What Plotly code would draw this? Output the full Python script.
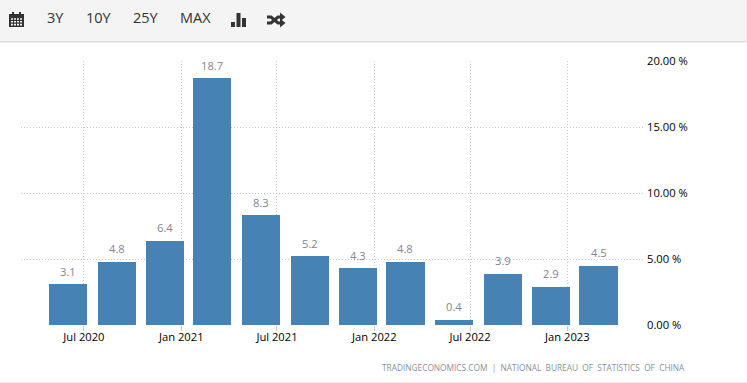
import plotly.graph_objects as go

W, H = 747, 383
L, R, T, B = 21, 644, 61, 325

quarters = ["2020-06-01", "2020-09-01", "2020-12-01", "2021-03-01", "2021-06-01", "2021-09-01",
            "2021-12-01", "2022-03-01", "2022-06-01", "2022-09-01", "2022-12-01", "2023-03-01"]
growth = [3.1, 4.8, 6.4, 18.7, 8.3, 5.2, 4.3, 4.8, 0.4, 3.9, 2.9, 4.5]
tick_dates = ["2020-07-01", "2021-01-01", "2021-07-01", "2022-01-01", "2022-07-01", "2023-01-01"]
tick_labels = ["Jul 2020", "Jan 2021", "Jul 2021", "Jan 2022", "Jul 2022", "Jan 2023"]
y_ticks = [0, 5, 10, 15, 20]
y_labels = ["0.00 %", "5.00 %", "10.00 %", "15.00 %", "20.00 %"]
toolbar_labels = [("3Y", 45), ("10Y", 84), ("25Y", 131), ("MAX", 178)]
source = "TRADINGECONOMICS.COM  |  NATIONAL\u00a0 BUREAU\u00a0 OF\u00a0 STATISTICS\u00a0 OF\u00a0 CHINA"

FONT = "Open Sans, Liberation Sans, sans-serif"
SIZE = 11.2
DARK = "#333333"
GRID = "#c8c8c8"
DOTS = "1px,2px"


def px(x):
    return (x - L) / (R - L)


def py(y):
    return (B - y) / (B - T)


def rect(x0, y0, x1, y1, color, layer="below"):
    return dict(type="rect", xref="paper", yref="paper", x0=px(x0), x1=px(x1), y0=py(y1), y1=py(y0),
                fillcolor=color, line_width=0, layer=layer)


def poly(points, color=DARK, width=0, closed=True):
    d = "M" + " L".join(f"{px(x):.5f},{py(y):.5f}" for x, y in points) + (" Z" if closed else "")
    return dict(type="path", xref="paper", yref="paper", path=d,
                fillcolor=color if closed else "rgba(0,0,0,0)",
                line=dict(color=color, width=width))


fig = go.Figure(go.Bar(
    x=quarters, y=growth, width=72 * 86400000, marker=dict(color="#4682B4", line_width=0),
    hoverinfo="x+y",
))

shapes = [
    rect(0, 0, 746, 41, "#f4f4f4"),
    rect(0, 41, 747, 42.5, "#dedede"),
    rect(746, 0, 747, 42, "#e6e6e6"),
    rect(0, 382, 747, 383, "#eeeeee"),
    # calendar
    rect(9, 14, 24, 27, DARK), rect(12, 12, 14, 15, DARK), rect(19, 12, 21, 15, DARK),
]
for row in range(3):
    for col in range(4):
        shapes.append(rect(11 + col * 3, 18.2 + row * 2.8, 13 + col * 3, 19.8 + row * 2.8, "#f4f4f4", "above"))
# bar-chart icon
shapes += [rect(231, 22, 235, 27, DARK, "above"), rect(236.5, 13, 240.5, 27, DARK, "above"),
           rect(242, 18, 246, 27, DARK, "above")]
# shuffle icon
shapes += [
    poly([(267, 17), (271, 17), (278, 23), (281, 23)], width=3, closed=False),
    poly([(267, 23), (271, 23), (278, 17), (281, 17)], width=3, closed=False),
    poly([(280, 12.5), (285.5, 17), (280, 21.5)]),
    poly([(280, 18.5), (285.5, 23), (280, 27.5)]),
]

value_labels = [
    dict(text=f"{v:.1f}", x=d, y=v, xref="x", yref="y", xanchor="center", yanchor="middle", yshift=13,
         showarrow=False, font=dict(family=FONT, size=SIZE, color="#85858f"))
    for d, v in zip(quarters, growth)
]

fig.update_layout(
    width=W, height=H, margin=dict(l=L, r=W - R, t=T, b=H - B, pad=0, autoexpand=False),
    paper_bgcolor="white", plot_bgcolor="white", showlegend=False, bargap=0,
    font=dict(family=FONT, size=SIZE, color="#000000"),
    xaxis=dict(type="date", range=["2020-03-04", "2023-05-26"], tickvals=tick_dates, ticktext=tick_labels,
               showgrid=True, gridcolor=GRID, griddash=DOTS, gridwidth=1,
               ticks="outside", ticklen=5, tickcolor=GRID, tickwidth=1, ticklabelstandoff=-3,
               showline=False, zeroline=False, tickfont=dict(family=FONT, size=SIZE, color="#000000")),
    yaxis=dict(range=[0, 20], side="right", tickvals=y_ticks, ticktext=y_labels,
               ticklabelstandoff=2,
               showgrid=True, gridcolor=GRID, griddash=DOTS, gridwidth=1, zeroline=False,
               showline=False, ticks="", tickfont=dict(family=FONT, size=SIZE, color="#000000")),
    shapes=shapes,
    annotations=value_labels + [
        dict(text=t, x=px(x), y=py(27), xref="paper", yref="paper", xanchor="left", yanchor="bottom",
             yshift=-2, showarrow=False, font=dict(family=FONT, size=14.5, color=DARK))
        for t, x in toolbar_labels
    ] + [
        dict(text=source, x=px(687), y=py(367), xref="paper", yref="paper", xanchor="right", yanchor="middle",
             showarrow=False, font=dict(family="Open Sans", size=8.3, color="#8a8f98"))
    ],
)

fig.write_html("out.html", config=dict(displayModeBar=False),
               post_script="document.body.style.margin='0';document.documentElement.style.overflow='hidden';")
